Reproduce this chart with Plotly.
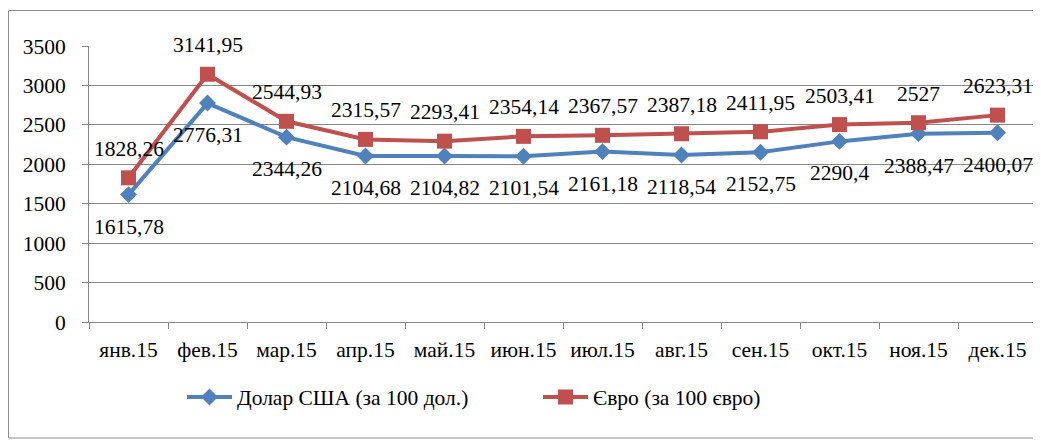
import plotly.graph_objects as go

months = ["янв.15", "фев.15", "мар.15", "апр.15", "май.15", "июн.15",
          "июл.15", "авг.15", "сен.15", "окт.15", "ноя.15", "дек.15"]
usd = [1615.78, 2776.31, 2344.26, 2104.68, 2104.82, 2101.54,
       2161.18, 2118.54, 2152.75, 2290.4, 2388.47, 2400.07]
eur = [1828.26, 3141.95, 2544.93, 2315.57, 2293.41, 2354.14,
       2367.57, 2387.18, 2411.95, 2503.41, 2527, 2623.31]
usd_name = "Долар США (за 100 дол.)"
eur_name = "Євро (за 100 євро)"

def fmt(v):
    s = ("%.2f" % v).rstrip("0").rstrip(".")
    return s.replace(".", ",")

FONT = "Liberation Serif"
FS = 21.5
BLUE = "#4F81BD"
RED = "#C0504D"
GRID = "#878787"

fig = go.Figure()
fig.add_trace(go.Scatter(x=months, y=usd, name=usd_name, mode="lines+markers",
                         line=dict(color=BLUE, width=4),
                         marker=dict(symbol="diamond", size=13, color=BLUE)))
fig.add_trace(go.Scatter(x=months, y=eur, name=eur_name, mode="lines+markers",
                         line=dict(color=RED, width=4),
                         marker=dict(symbol="square", size=15, color=RED)))

annotations = []
for m, v in zip(months, usd):
    annotations.append(dict(x=m, y=v, text=fmt(v), showarrow=False, yshift=-32,
                            font=dict(family=FONT, size=FS, color="black")))
for m, v in zip(months, eur):
    annotations.append(dict(x=m, y=v, text=fmt(v), showarrow=False, yshift=29,
                            font=dict(family=FONT, size=FS, color="black")))

# page is rendered with an 8px body margin, so offset everything by 8px
OFF = 8
W, H = 1041 - OFF, 441 - OFF
L, T = 89 - OFF, 46 - OFF
PLOT_R, PLOT_B = 1037 - OFF, 322 - OFF
R, B = W - PLOT_R, H - PLOT_B
pw, ph = PLOT_R - L, PLOT_B - T

def px(xp):
    return (xp - OFF - L) / pw

def py(yp):
    return (PLOT_B - (yp - OFF)) / ph

fig.update_layout(
    template="none",
    width=W, height=H,
    margin=dict(l=L, r=R, t=T, b=B),
    paper_bgcolor="white", plot_bgcolor="white",
    font=dict(family=FONT, size=FS, color="black"),
    showlegend=True,
    legend=dict(orientation="h", x=px(182), xanchor="left", y=py(397), yanchor="middle",
                font=dict(family=FONT, size=FS, color="black"),
                entrywidth=296, entrywidthmode="pixels", itemwidth=45,
                bgcolor="rgba(0,0,0,0)"),
    annotations=annotations,
    shapes=[dict(type="rect", xref="paper", yref="paper",
                 x0=px(8.5), x1=px(1038), y0=py(438), y1=py(10.5),
                 line=dict(color="#8C8C8C", width=1), layer="below")],
    xaxis=dict(range=[-0.5, len(months) - 0.5], showgrid=False, showline=True,
               linecolor=GRID, linewidth=1,
               ticks="outside", ticklen=6, tickcolor=GRID, tickson="boundaries",
               tickfont=dict(family=FONT, size=FS), ticklabelstandoff=8,
               automargin=False),
    yaxis=dict(range=[0, 3500], dtick=500, showgrid=True, gridcolor=GRID, gridwidth=1,
               showline=True, linecolor=GRID, linewidth=1, zeroline=False,
               ticks="outside", ticklen=6, tickcolor=GRID,
               tickfont=dict(family=FONT, size=FS), ticklabelstandoff=12,
               automargin=False),
)

fig.write_html("out.html")
